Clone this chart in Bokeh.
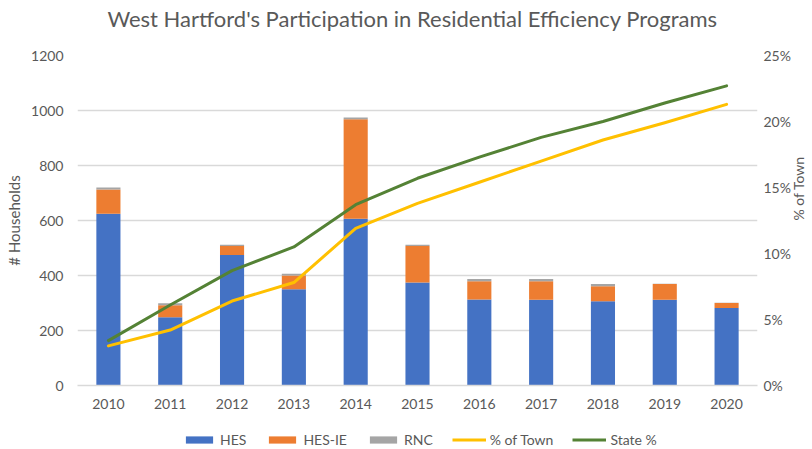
import math
from bokeh.plotting import figure
from bokeh.layouts import column
from bokeh.models import (Range1d, LinearAxis, NumeralTickFormatter, Legend, LegendItem,
                          ColumnDataSource, FixedTicker, FactorRange, Label)
from bokeh.embed import file_html
from bokeh.resources import INLINE

years = ["2010", "2011", "2012", "2013", "2014", "2015", "2016", "2017", "2018", "2019", "2020"]
hes = [625, 248, 475, 350, 606, 375, 313, 312, 306, 312, 282]
hes_ie = [88, 44, 32, 50, 362, 132, 66, 67, 55, 57, 18]
rnc = [7, 7, 5, 6, 7, 5, 8, 8, 8, 1, 1]
pct_town = [3.0, 4.2, 6.4, 7.8, 11.9, 13.8, 15.4, 17.0, 18.6, 19.9, 21.3]
state_pct = [3.4, 6.1, 8.7, 10.5, 13.7, 15.7, 17.3, 18.8, 20.0, 21.4, 22.7]
left_ticks = [0, 200, 400, 600, 800, 1000, 1200]
right_ticks = [0, 0.05, 0.10, 0.15, 0.20, 0.25]
series_names = ["HES", "HES-IE", "RNC", "% of Town", "State %"]
colors = ["#4472C4", "#ED7D31", "#A5A5A5", "#FFC000", "#548235"]

TITLE = "West Hartford's Participation in Residential Efficiency Programs"
FONT = "Lato"
GRAY = "#595959"

src = ColumnDataSource(dict(
    year=years, HES=hes, HES_IE=hes_ie, RNC=rnc,
    town=[v / 100 for v in pct_town], state=[v / 100 for v in state_pct],
))

# ---- title strip ----
tt = figure(width=812, height=40, x_range=Range1d(0, 1), y_range=Range1d(0, 1),
            x_axis_type=None, y_axis_type=None, title=None, output_backend="svg",
            toolbar_location=None, min_border=0)
tt.outline_line_color = None
tt.xgrid.grid_line_color = None
tt.ygrid.grid_line_color = None
tt.add_layout(Label(x=335, y=22, x_units="screen", y_units="screen", text=TITLE,
                    text_font=FONT, text_font_size="22px", text_color=GRAY,
                    text_align="center", text_baseline="alphabetic"))

# ---- main chart ----
p = figure(x_range=FactorRange(*years, range_padding=0), y_range=Range1d(0, 1200),
           frame_width=680, frame_height=330, output_backend="svg", toolbar_location=None,
           title=None, min_border_left=77, min_border_right=55, min_border_top=15,
           min_border_bottom=30)
p.extra_y_ranges = {"pct": Range1d(0, 0.25)}

p.vbar_stack(["HES", "HES_IE", "RNC"], x="year", width=0.39, source=src,
             color=colors[:3], line_color=None)
p.line("year", "town", source=src, y_range_name="pct", line_color=colors[3],
       line_width=3, line_join="round", line_cap="round")
p.line("year", "state", source=src, y_range_name="pct", line_color=colors[4],
       line_width=3, line_join="round", line_cap="round")

p.outline_line_color = None
p.xgrid.grid_line_color = None
p.ygrid.grid_line_color = "#d9d9d9"
p.ygrid.grid_line_width = 1.3
p.ygrid.ticker = FixedTicker(ticks=left_ticks)

yl = p.yaxis[0]
yl.ticker = FixedTicker(ticks=left_ticks)
yl.axis_label = "# Households"

xr = p.xaxis[0]
xr.axis_line_color = "#d9d9d9"
xr.axis_line_width = 1.3
xr.major_tick_line_color = None
xr.minor_tick_line_color = None
xr.major_tick_out = 0
xr.major_label_standoff = 13
xr.major_label_text_font = FONT
xr.major_label_text_font_size = "14px"
xr.major_label_text_color = GRAY

right = LinearAxis(y_range_name="pct", axis_label="% of Town",
                   ticker=FixedTicker(ticks=right_ticks),
                   formatter=NumeralTickFormatter(format="0%"))
p.add_layout(right, "right")

for ax in [yl, right]:
    ax.axis_line_color = None
    ax.major_tick_line_color = None
    ax.minor_tick_line_color = None
    ax.major_tick_out = 0
    ax.major_label_text_font = FONT
    ax.major_label_text_font_size = "14px"
    ax.major_label_text_color = GRAY
    ax.axis_label_text_font = FONT
    ax.axis_label_text_font_size = "15px"
    ax.axis_label_text_font_style = "normal"
    ax.axis_label_text_color = GRAY
yl.major_label_standoff = 14
yl.axis_label_standoff = 5
right.major_label_standoff = 6
right.axis_label_standoff = 5
right.axis_label_text_font_size = "14px"
try:
    right.axis_label_orientation = math.pi / 2
except Exception:
    pass

# ---- legend strip (glyphs share the chart data but lie outside its visible range) ----
lg = figure(width=812, height=34, x_range=p.x_range, y_range=Range1d(5000, 5001),
            x_axis_type=None, y_axis_type=None, title=None, output_backend="svg",
            toolbar_location=None, min_border=0)
lg.outline_line_color = None
lg.xgrid.grid_line_color = None
lg.ygrid.grid_line_color = None
bars = lg.vbar_stack(["HES", "HES_IE", "RNC"], x="year", width=0.39, source=src,
                     color=colors[:3], line_color=None)
ln1 = lg.line("year", "town", source=src, line_color=colors[3], line_width=3)
ln2 = lg.line("year", "state", source=src, line_color=colors[4], line_width=3)
renderers = list(bars) + [ln1, ln2]
items = [LegendItem(label=n, renderers=[r]) for n, r in zip(series_names, renderers)]
legend = Legend(items=items, orientation="horizontal", location=(105, 1))
legend.border_line_color = None
legend.background_fill_alpha = 0
legend.label_text_font = FONT
legend.label_text_font_size = "14px"
legend.label_text_color = GRAY
legend.label_height = 14
legend.glyph_width = 34
legend.glyph_height = 9
legend.label_standoff = 4
legend.spacing = 19
legend.padding = 0
legend.margin = 0
lg.add_layout(legend)

open("out.html", "w").write(file_html(column(tt, p, lg, spacing=0), INLINE))
